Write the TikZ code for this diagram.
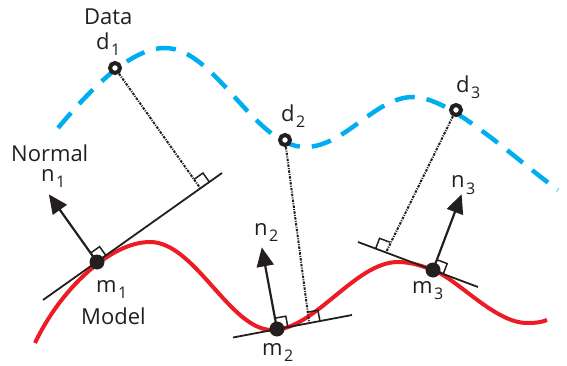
\documentclass[tikz,border=0pt]{standalone}
\usepackage{fontspec}
\setmainfont{Open Sans}
\usetikzlibrary{calc,arrows.meta}
\definecolor{cblue}{RGB}{0,174,239}
\definecolor{cred}{RGB}{237,28,36}
\definecolor{ink}{RGB}{35,31,32}
\newcommand\lbl[2]{#1\hspace{1.5pt}\raisebox{-6pt}{\fontsize{16}{16}\selectfont #2}}
\newcommand\rsq[3]{%
  \path ($(#1)!11pt!(#2)$) coordinate (sqA) ($(#1)!11pt!#3:(#2)$) coordinate (sqB);
  \draw[rightsq] (sqA) -- ($(sqA)+(sqB)-(#1)$) -- (sqB);}
\begin{document}
\begin{tikzpicture}[x=1pt,y=-1pt,
  txt/.style={inner sep=0pt, anchor=base west, font=\fontsize{22}{22}\selectfont, text=ink},
  datacurve/.style={cblue, line width=4.5pt, dash pattern=on 20pt off 12pt},
  modelcurve/.style={cred, line width=4pt},
  tangentline/.style={ink, line width=1.8pt},
  normalvec/.style={ink, line width=2.2pt, -{Triangle[length=19pt,width=17pt]}},
  perpline/.style={ink, line width=2pt, dash pattern=on 2.5pt off 1.2pt on 1pt off 1.2pt},
  rightsq/.style={ink, line width=1.5pt},
  datapt/.style={circle, draw=ink, fill=white, line width=4pt, minimum size=10pt, inner sep=0pt},
  modelpt/.style={circle, fill=ink, minimum size=15pt, inner sep=0pt}]
\useasboundingbox (0,0) rectangle (567,366);

% curves
\draw[datacurve] (58,128) .. controls (90,90) and (130,48) .. (165,48)
  .. controls (215,48) and (255,147) .. (305,147)
  .. controls (345,147) and (375,97) .. (413,97)
  .. controls (450,97) and (510,155) .. (558,190);
\draw[modelcurve] (35,343) .. controls (60,290) and (110,242) .. (150,242)
  .. controls (195,242) and (230,330) .. (272,330)
  .. controls (315,330) and (355,262) .. (398,262)
  .. controls (410,262) and (421,265.5) .. (433,270)
  .. controls (458,279.4) and (495,323) .. (527,323)
  .. controls (537,323) and (542,322) .. (547,320);

% positions
\coordinate (m1c) at (97,262);
\coordinate (m2c) at (277,329);
\coordinate (m3c) at (433,270);
\coordinate (T1a) at (43,300);  \coordinate (T1b) at (222,173);
\coordinate (T2a) at (233,337.5); \coordinate (T2b) at (352,315);
\coordinate (T3a) at (358,242); \coordinate (T3b) at (478,287);

% tangent lines
\draw[tangentline] (T1a) -- (T1b);
\draw[tangentline] (T2a) -- (T2b);
\draw[tangentline] (T3a) -- (T3b);

% data points
\node[datapt] (d1) at (115,68) {};
\node[datapt] (d2) at (285,140) {};
\node[datapt] (d3) at (456,110) {};

% feet of perpendiculars
\coordinate (F1) at ($(T1a)!(d1)!(T1b)$);
\coordinate (F2) at ($(T2a)!0.64!(T2b)$);
\coordinate (F3) at ($(T3a)!0.233!(T3b)$);
\draw[perpline] (d1) -- (F1);
\draw[perpline] (d2) -- (F2);
\draw[perpline] (d3) -- (F3);
\rsq{F1}{T1b}{90}
\rsq{F2}{T2b}{90}
\rsq{F3}{T3a}{-90}

% normals
\coordinate (N1) at ($(m1c)!83pt!90:(T1b)$);
\coordinate (N2) at ($(m2c)!83pt!90:(T2b)$);
\coordinate (N3) at ($(m3c)!81pt!90:(T3b)$);
\rsq{m1c}{T1b}{90}
\rsq{m2c}{T2b}{90}
\rsq{m3c}{T3b}{90}
\draw[normalvec] (m1c) -- (N1);
\draw[normalvec] (m2c) -- (N2);
\draw[normalvec] (m3c) -- (N3);

% model points
\node[modelpt] (m1) at (m1c) {};
\node[modelpt] (m2) at (m2c) {};
\node[modelpt] (m3) at (m3c) {};

% labels
\node[txt] (ldata) at (84,25) {Data};
\node[txt] (ld1) at (96,50) {\lbl{d}{1}};
\node[txt] (ld2) at (281,122) {\lbl{d}{2}};
\node[txt] (ld3) at (456,93) {\lbl{d}{3}};
\node[txt] (lnormal) at (11,162) {Normal};
\node[txt] (ln1) at (41,182) {\lbl{n}{1}};
\node[txt] (ln2) at (254,235) {\lbl{n}{2}};
\node[txt] (ln3) at (451,188) {\lbl{n}{3}};
\node[txt] (lm1) at (96,292) {\lbl{m}{1}};
\node[txt] (lmodel) at (81,324) {Model};
\node[txt] (lm2) at (262,355) {\lbl{m}{2}};
\node[txt] (lm3) at (412,293) {\lbl{m}{3}};
\end{tikzpicture}
\end{document}
